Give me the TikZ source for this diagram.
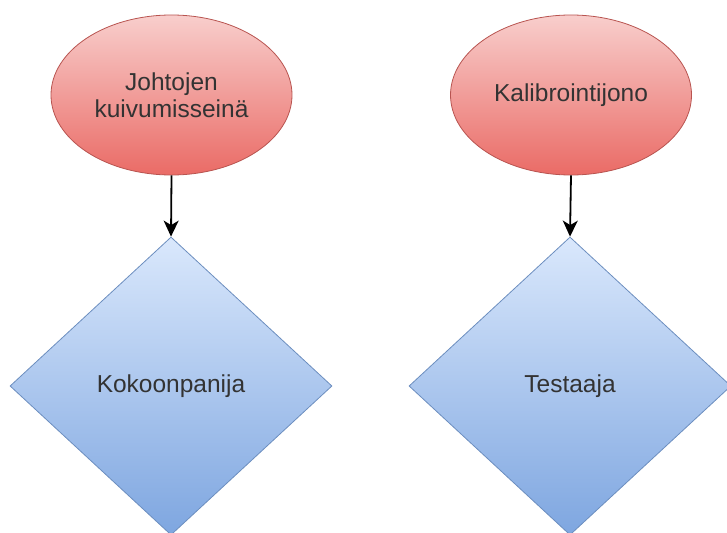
\documentclass[tikz,border=0pt]{standalone}
\usepackage{fontspec}
\setmainfont{Liberation Sans}
\usetikzlibrary{shapes.geometric,arrows.meta}
\definecolor{redtop}{HTML}{F8CECC}
\definecolor{redbot}{HTML}{EA6B66}
\definecolor{redline}{HTML}{B85450}
\definecolor{bluetop}{HTML}{DAE8FC}
\definecolor{bluebot}{HTML}{7EA6E0}
\definecolor{blueline}{HTML}{6C8EBF}
\definecolor{txt}{HTML}{333333}
\tikzset{
  x=1pt, y=-1pt,
  startnode/.style={ellipse, draw=redline, line width=0.8pt,
    top color=redtop, bottom color=redbot,
    minimum width=241pt, minimum height=160pt, inner sep=0pt,
    text=txt, align=center, font=\fontsize{24.5}{27}\selectfont},
  worknode/.style={diamond, draw=blueline, line width=0.8pt,
    top color=bluetop, bottom color=bluebot,
    minimum width=322pt, minimum height=298pt, inner sep=0pt,
    text=txt, align=center, font=\fontsize{24.5}{27}\selectfont},
  flow/.style={line width=1.8pt, -{Stealth[length=16pt,width=15pt,inset=4.5pt]}}
}
\begin{document}
\begin{tikzpicture}
\useasboundingbox (0,0) rectangle (727,532);
\clip (0,0) rectangle (727,532);
% drying racks feeding the assembler
\node[startnode] (dry) at (171.5,95) {Johtojen\\kuivumisseinä};
\node[worknode] (asm) at (171,386) {Kokoonpanija};
\draw[flow] (dry.south) -- (asm.north);
% calibration queue feeding the tester
\node[startnode] (cal) at (571,95) {Kalibrointijono};
\node[worknode] (test) at (570,386) {Testaaja};
\draw[flow] (cal.south) -- (test.north);
\end{tikzpicture}
\end{document}
